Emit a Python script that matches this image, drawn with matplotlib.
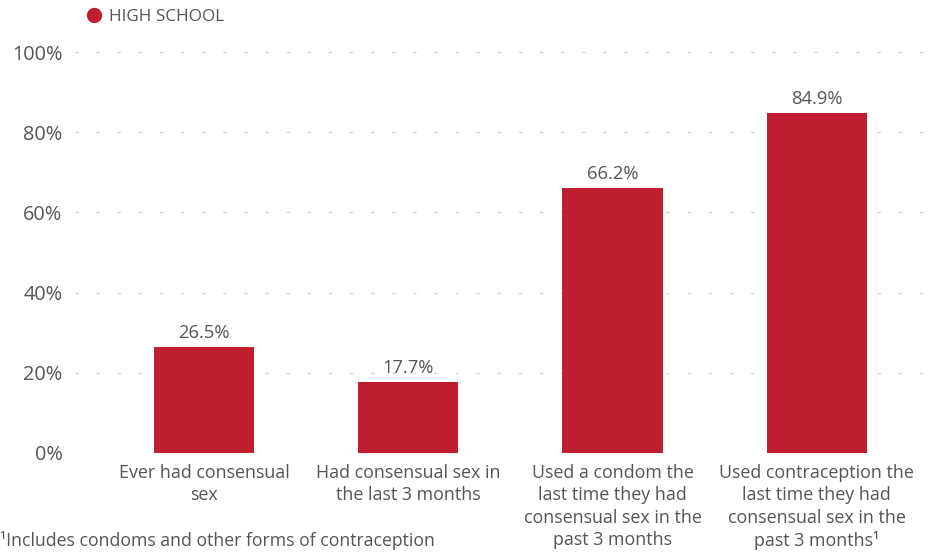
import matplotlib
matplotlib.use("Agg")
import matplotlib.pyplot as plt
from matplotlib.lines import Line2D

# Survey results, high school students
categories = [
    "Ever had consensual\nsex",
    "Had consensual sex in\nthe last 3 months",
    "Used a condom the\nlast time they had\nconsensual sex in the\npast 3 months",
    "Used contraception the\nlast time they had\nconsensual sex in the\npast 3 months\u00b9",
]
values = [26.5, 17.7, 66.2, 84.9]
yticks = [0, 20, 40, 60, 80, 100]
series_name = "HIGH SCHOOL"
footnote = "\u00b9Includes condoms and other forms of contraception"

bar_color = "#BE1E2D"
text_color = "#555555"
plt.rcParams["font.family"] = ["Open Sans", "DejaVu Sans"]

fig = plt.figure(figsize=(9.43, 5.55), dpi=100)
ax = fig.add_axes([75 / 943, 102 / 555, 850 / 943, 401 / 555])

x = range(len(values))
ax.bar(x, values, width=0.49, color=bar_color, zorder=3)
for xi, v in zip(x, values):
    ax.text(xi, v + 1.2, f"{v:.1f}%", ha="center", va="bottom",
            fontsize=13.2, color=text_color)

ax.set_ylim(0, 100)
ax.set_xlim(-0.632, 3.53)
ax.set_yticks(yticks)
ax.set_yticklabels([f"{t}%" for t in yticks], fontsize=14.3, color=text_color)
ax.set_xticks(list(x))
ax.set_xticklabels(categories, fontsize=12.9, color=text_color, linespacing=1.3, va="top")
ax.tick_params(length=0)
ax.tick_params(axis="x", pad=8)
ax.tick_params(axis="y", pad=9)

ax.grid(axis="y", color="#cccccc", linestyle=(0, (3, 16)), linewidth=0.8, zorder=0)
for s in ax.spines.values():
    s.set_visible(False)

# legend at top left
fig.legend([Line2D([0], [0], marker="o", color="none", markerfacecolor=bar_color,
                   markeredgecolor=bar_color, markersize=10)],
           [series_name], loc="center left", bbox_to_anchor=(68 / 943, 1 - 17 / 555),
           frameon=False, fontsize=12.3, labelcolor=text_color, handletextpad=0.3,
           handlelength=1.2)

fig.text(0, 1 - 541 / 555, footnote, fontsize=12.7, color=text_color, va="center", ha="left")

fig.savefig("out.png", dpi=100)
